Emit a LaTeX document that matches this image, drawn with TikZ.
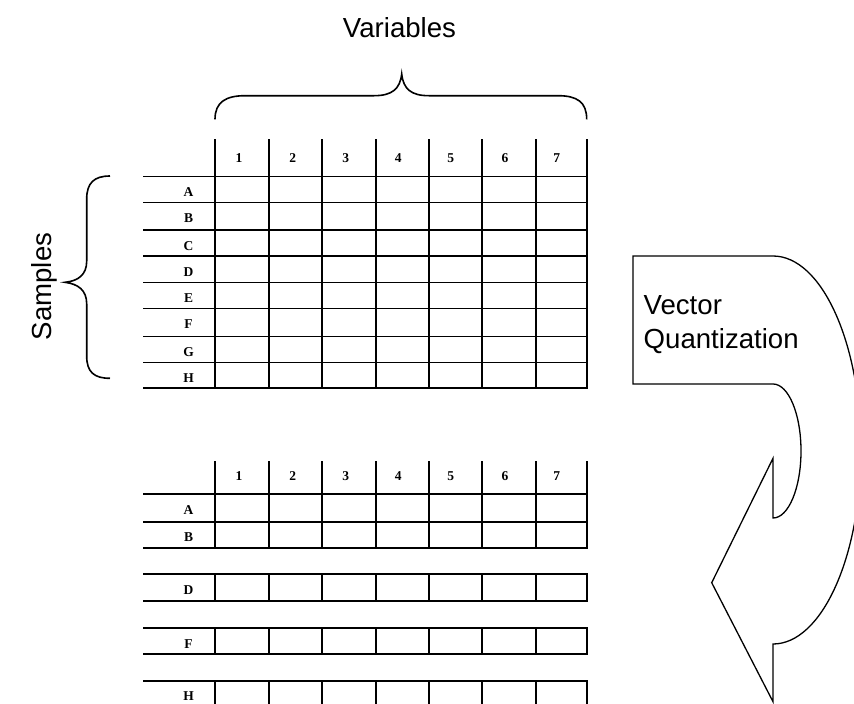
\documentclass[tikz,border=0pt]{standalone}
\usepackage{fontspec}
\setmainfont{Liberation Serif}
\newfontfamily\arialfont{Liberation Sans}
\newfontfamily\lblfont{Liberation Serif Bold}
\begin{document}
\begin{tikzpicture}[x={(1pt,0)},y={(0,-1pt)},
  tabline/.style={line width=1.9pt,line cap=rect},
  bracestyle/.style={line width=1.6pt},
  arrowshape/.style={line width=1.3pt,line join=miter},
  lbl/.style={font=\lblfont\fontsize{13.5}{15}\selectfont,inner sep=0pt,anchor=base},
  bigtxt/.style={font=\arialfont\fontsize{27.6}{34}\selectfont,inner sep=0pt}]
\useasboundingbox (0,0) rectangle (854,704);
\clip (0,0) rectangle (854,704);
\fill[white] (0,0) rectangle (854,704);

% ---------- top table ----------
\foreach \x in {215,269,322,376,429,482,536,587}
  \draw[tabline] (\x,140) -- (\x,388);
\foreach \y in {176.5,202.5,230,256,282.5,308.5,336.5,362.5,388}
  \draw[tabline] (144,\y) -- (587,\y);
\foreach \x/\t [count=\i] in {239/1,292.7/2,345.7/3,398.3/4,450.7/5,505/6,556.7/7}
  \node[lbl] (tc\i) at (\x,162.7) {\t};
\foreach \y/\t in {176.5/A,202.5/B,230/C,256/D,282.5/E,308.5/F,336.5/G,362.5/H}
  \node[lbl] (tr\t) at (188.5,\y+20) {\t};

% ---------- bottom table ----------
\foreach \x in {215,269,322,376,429,482,536,587}{
  \draw[tabline] (\x,461.7) -- (\x,548.3);
  \draw[tabline] (\x,574.3) -- (\x,600.7);
  \draw[tabline] (\x,628.3) -- (\x,654.3);
  \draw[tabline] (\x,680.7) -- (\x,707);
}
\foreach \y in {494.3,521.7,548.3,574.3,600.7,628.3,654.3,680.7,707}
  \draw[tabline] (144,\y) -- (587,\y);
\foreach \x/\t [count=\i] in {239/1,292.7/2,345.7/3,398.3/4,450.7/5,505/6,556.7/7}
  \node[lbl] (bc\i) at (\x,480) {\t};
\foreach \y/\t in {494.3/A,521.7/B,574.3/D,628.3/F,680.7/H}
  \node[lbl] (br\t) at (188.5,\y+19.7) {\t};

% ---------- braces ----------
\draw[bracestyle] (215,119.3) .. controls (215,102) and (226,95.7) .. (245,95.7)
  -- (374,95.7) .. controls (392,95.7) and (400,89) .. (401.7,74)
  .. controls (403.4,89) and (411,95.7) .. (429,95.7)
  -- (558,95.7) .. controls (577,95.7) and (586.7,102) .. (586.7,119.3);
\draw[bracestyle] (110,176) .. controls (94,176) and (86.7,183) .. (86.7,199)
  -- (86.7,261) .. controls (86.7,275) and (78,281) .. (65,282.3)
  .. controls (78,284) and (86.7,290) .. (86.7,304)
  -- (86.7,356) .. controls (86.7,372) and (94,378.3) .. (110,378.3);

% ---------- labels ----------
\node[bigtxt,anchor=base] (vars) at (399.5,37.3) {Variables};
\node[bigtxt,rotate=90,anchor=base] (samp) at (51,286.5) {Samples};

% ---------- curved arrow ----------
\draw[arrowshape] (633,256) -- (773,256)
  .. controls (821.6,256) and (861,342.9) .. (861,450)
  .. controls (861,557.1) and (821.6,644) .. (773,644)
  -- (773,701.7) -- (711.7,582.7) -- (773,458.3) -- (773,518)
  .. controls (788.5,518) and (801,488) .. (801,451)
  .. controls (801,414) and (788.5,384) .. (773,384)
  -- (633,384) -- cycle;
\node[bigtxt,anchor=base west] (vq1) at (643.5,314) {Vector};
\node[bigtxt,anchor=base west] (vq2) at (643.5,348.3) {Quantization};
\end{tikzpicture}
\end{document}
